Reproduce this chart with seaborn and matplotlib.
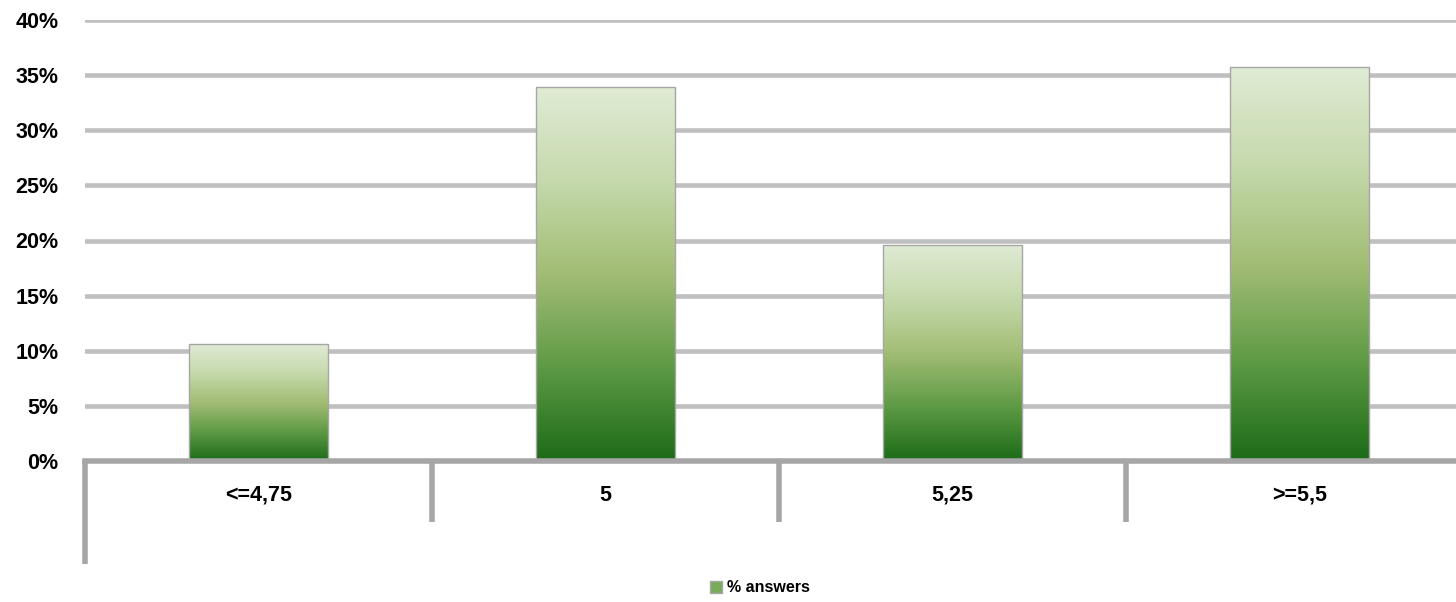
import numpy as np
import pandas as pd
import seaborn as sns
import matplotlib.pyplot as plt
from matplotlib.colors import LinearSegmentedColormap
from matplotlib.patches import Patch
from matplotlib.ticker import FuncFormatter

# Данные
categories = ['<=4,75', '5', '5,25', '>=5,5']
answers = [10.6, 33.9, 19.6, 35.7]
series_name = '% answers'

data = pd.DataFrame({'cat': categories, 'val': answers})

sns.set_theme(style='white')
plt.rcParams['font.family'] = ['Liberation Sans', 'DejaVu Sans']
plt.rcParams['text.color'] = 'black'
plt.rcParams['xtick.color'] = 'black'
plt.rcParams['ytick.color'] = 'black'

fig = plt.figure(figsize=(14.56, 6.02), dpi=100)
# область графика шире фигуры справа, как в оригинале
ax = fig.add_axes([85 / 1456, 1 - 461 / 602, 1388 / 1456, (461 - 20) / 602])

sns.barplot(data=data, x='cat', y='val', ax=ax, width=0.4,
            color='#9bbb6e', edgecolor='#a6a6a6', linewidth=1, zorder=3)

ax.set_ylim(0, 40)
ax.set_xlim(-0.5, 3.5)
ax.set_yticks(range(0, 41, 5))
ax.yaxis.set_major_formatter(FuncFormatter(lambda v, p: f'{int(v)}%'))
ax.set_axisbelow(True)
ax.yaxis.grid(True, color='#bfbfbf', linewidth=3.3)
ax.xaxis.grid(False)
for s in ['top', 'right', 'left']:
    ax.spines[s].set_visible(False)
ax.spines['bottom'].set_color('#a6a6a6')
ax.spines['bottom'].set_linewidth(4)
ax.spines['bottom'].set_zorder(4)

ax.tick_params(axis='y', length=0, pad=19, labelsize=15.5, labelcolor='black')
ax.tick_params(axis='x', length=0, pad=17, labelsize=15.5, labelcolor='black')
for t in ax.get_yticklabels() + ax.get_xticklabels():
    t.set_fontweight('bold')
ax.set_xlabel('')
ax.set_ylabel('')

# градиентная заливка столбцов
cmap = LinearSegmentedColormap.from_list('grn', ['#1c6b17', '#5e9a45', '#a2bd74', '#c5d9ac', '#e0ebd4'])
grad = np.linspace(0, 1, 256).reshape(-1, 1)
for bar in ax.patches:
    x0, y0 = bar.get_x(), bar.get_y()
    w, h = bar.get_width(), bar.get_height()
    im = ax.imshow(grad, cmap=cmap, origin='lower', aspect='auto',
                   extent=[x0, x0 + w, y0, y0 + h], zorder=3)
    im.set_clip_path(bar)
    bar.set_facecolor('none')
    bar.set_zorder(3.5)
ax.set_xlim(-0.5, 3.5)
ax.set_ylim(0, 40)

# разделители категорий под осью
for i, xb in enumerate(np.arange(-0.5, 3.5, 1.0)):
    low = -9.3 if i == 0 else -5.5
    ax.plot([xb, xb], [0, low], color='#a6a6a6', linewidth=4,
            clip_on=False, solid_capstyle='butt', zorder=4)

leg = fig.legend(handles=[Patch(facecolor='#7aab5a', edgecolor='#a6a6a6', label=series_name)],
                 loc='center', bbox_to_anchor=(0.522, 1 - 588 / 602), frameon=False,
                 prop={'weight': 'bold', 'size': 11.5}, handlelength=0.75, handleheight=0.75,
                 handletextpad=0.35, labelcolor='black')

fig.savefig('out.png', dpi=100)
